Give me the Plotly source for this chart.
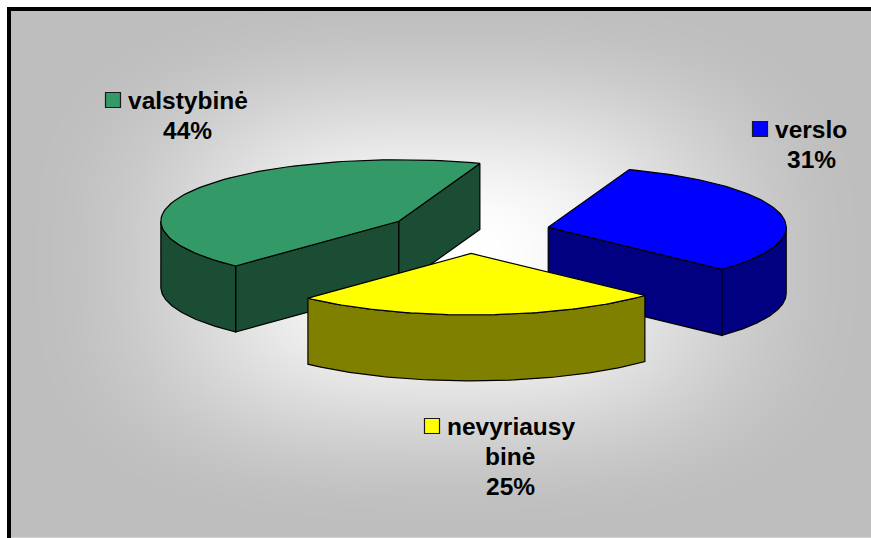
import numpy as np
import plotly.graph_objects as go

W, H = 871, 538

# ---- chart data ----
categories = ["verslo", "nevyriausybinė", "valstybinė"]
shares = [31.45, 25.05, 43.5]
label_lines = [["verslo", "31%"], ["nevyriausy", "binė", "25%"], ["valstybinė", "44%"]]
top_colors = ["#0000FF", "#FFFF00", "#339966"]
side_colors = ["#000080", "#808000", "#1A4D33"]

# ---- pie projection (pixels) ----
CX, CY = 468.6, 232.3
RX, RY = 238.0, 61.5
DEPTH = 66.0
EXPLODE = 0.344
START_DEG = 70.1


def pt(c, ang, dz=0.0):
    return c[0] + RX * np.cos(ang), c[1] - RY * np.sin(ang) + dz


def arc(c, a0, a1, dz=0.0, n=80):
    t = np.linspace(a0, a1, n)
    return c[0] + RX * np.cos(t), c[1] - RY * np.sin(t) + dz


fig = go.Figure()

# background gradient
gx = np.linspace(11, W, 120)
gy = np.linspace(11, H, 80)
XX, YY = np.meshgrid(gx, gy)
rho = ((np.abs(XX - 445) / 430) ** 3 + (np.abs(YY - 262) / 270) ** 3) ** (1 / 3)
s = np.clip((1 - rho) / 0.95, 0, 1)
fig.add_trace(go.Heatmap(
    x=gx, y=gy, z=s * s * (3 - 2 * s), zmin=0, zmax=1, zsmooth="best",
    colorscale=[[0, "#BEBEBE"], [1, "#FFFFFF"]], showscale=False, hoverinfo="skip"))


def poly(xs, ys, color):
    fig.add_trace(go.Scatter(
        x=np.asarray(xs), y=np.asarray(ys), mode="lines", fill="toself", fillcolor=color,
        line=dict(color="#000000", width=1.2), hoverinfo="skip", showlegend=False))


# slices, clockwise from the start angle
spans = np.radians(np.array(shares) / sum(shares) * 360)
geom = {}
a = np.radians(START_DEG)
for name, sp in zip(categories, spans):
    mid = a - sp / 2
    c = (CX + EXPLODE * RX * np.cos(mid), CY - EXPLODE * RY * np.sin(mid))
    geom[name] = (c, a - sp, a)
    a -= sp


def side_radial(c, ang, color):
    x, y = pt(c, ang)
    poly([c[0], x, x, c[0], c[0]], [c[1], y, y + DEPTH, c[1] + DEPTH, c[1]], color)


def side_arc(c, a0, a1, color):
    x0, y0 = arc(c, a0, a1)
    x1, y1 = arc(c, a1, a0, DEPTH)
    poly(np.r_[x0, x1, x0[0]], np.r_[y0, y1, y0[0]], color)


def top(c, a0, a1, color):
    x, y = arc(c, a0, a1)
    poly(np.r_[c[0], x, c[0]], np.r_[c[1], y, c[1]], color)


for i in [2, 0, 1]:  # green, blue, yellow painted back to front
    name = categories[i]
    c, a0, a1 = geom[name]
    if i == 2:      # green: both cut faces show, plus left rim
        side_radial(c, a1, side_colors[i])
        side_radial(c, a0, side_colors[i])
        side_arc(c, -np.pi, a1, side_colors[i])
    elif i == 0:    # blue: lower cut face and right rim
        side_radial(c, a0, side_colors[i])
        side_arc(c, a0, 0.0, side_colors[i])
    else:           # yellow: front rim only
        side_arc(c, a0, a1, side_colors[i])
    top(c, a0, a1, top_colors[i])

# labels
FS = 24.5
LINE = 30.3
block_centre_x = [811, 510, 187]
first_y = [129, 426, 100]
key_x = [760, 432, 113]
text_left = [773, 445, 126]
annos = []
font = dict(family="Liberation Sans", size=FS, color="#000000")
for i, lines in enumerate(label_lines):
    for j, t in enumerate(lines):
        annos.append(dict(
            x=text_left[i] if j == 0 else block_centre_x[i], y=first_y[i] + j * LINE,
            text="<b>" + t + "</b>", xanchor="left" if j == 0 else "center", yanchor="middle",
            showarrow=False, font=font))

fig.add_trace(go.Scatter(
    x=key_x, y=first_y, mode="markers", hoverinfo="skip", showlegend=False,
    marker=dict(symbol="square", size=15, color=top_colors, line=dict(color="#1a1a1a", width=1.2))))

fig.update_layout(
    width=W, height=H, margin=dict(l=0, r=0, t=0, b=0), autosize=False,
    paper_bgcolor="#FFFFFF", plot_bgcolor="rgba(0,0,0,0)", showlegend=False,
    xaxis=dict(range=[0, W], visible=False, fixedrange=True),
    yaxis=dict(range=[H, 0], visible=False, fixedrange=True),
    annotations=annos,
    shapes=[
        dict(type="rect", x0=7, x1=W, y0=7, y1=11, fillcolor="#000000", line_width=0, layer="above"),
        dict(type="rect", x0=7, x1=11, y0=7, y1=H, fillcolor="#000000", line_width=0, layer="above"),
    ],
)
fig.write_html("out.html", config=dict(displayModeBar=False),
               post_script="document.body.style.margin='0';document.documentElement.style.overflow='hidden';")
